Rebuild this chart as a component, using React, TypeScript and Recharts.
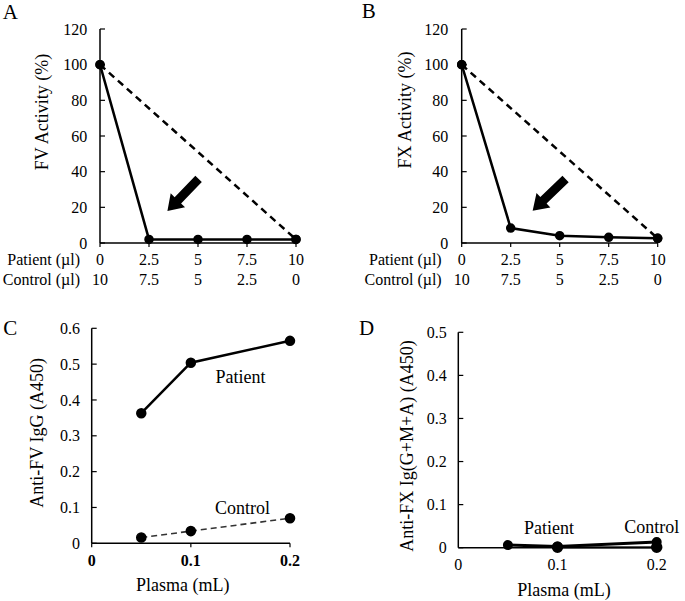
import React from 'react';
import { LineChart, Line, XAxis, YAxis, ReferenceLine, ReferenceDot, Label } from 'recharts';

// ---------- data ----------
const patientVolumes = [0, 2.5, 5, 7.5, 10];
const controlVolumes = [10, 7.5, 5, 2.5, 0];
const fvPatient = [100, 2, 2, 2, 2];
const fvControl = [100, null, null, null, 2];
const fxPatient = [100, 8.4, 4.1, 3.2, 2.6];
const fxControl = [100, null, null, null, 2.6];
const activityTicks = [0, 20, 40, 60, 80, 100, 120];

const plasmaVolumes = [0.05, 0.1, 0.2];
const antiFvPatient = [0.363, 0.504, 0.565];
const antiFvControl = [0.016, 0.034, 0.07];
const antiFxPatient = [0.006, 0.003, 0.013];
const antiFxControl = [null, 0.001, 0.001];
const plasmaTicks = [0, 0.1, 0.2];
const antiFvTicks = [0, 0.1, 0.2, 0.3, 0.4, 0.5, 0.6];
const antiFxTicks = [0, 0.1, 0.2, 0.3, 0.4, 0.5];

// arrows (data coordinates: tail -> tip)
const fvArrow = [{ x: 5.03, y: 35.9 }, { x: 3.44, y: 17.9 }];
const fxArrow = [{ x: 5.3, y: 35.9 }, { x: 3.62, y: 18.1 }];

// ---------- tables ----------
const fvData = patientVolumes.map((v, i) => ({ x: v, patient: fvPatient[i], control: fvControl[i] }));
const fxData = patientVolumes.map((v, i) => ({ x: v, patient: fxPatient[i], control: fxControl[i] }));
const antiFvData = plasmaVolumes.map((v, i) => ({ x: v, patient: antiFvPatient[i], control: antiFvControl[i] }));
const antiFxData = plasmaVolumes.map((v, i) => ({ x: v, patient: antiFxPatient[i], control: antiFxControl[i] }));

const FONT = '"Liberation Serif", "Times New Roman", serif';
const axisLine = { stroke: '#000', strokeWidth: 1.5 };
const tickLine = { stroke: '#000', strokeWidth: 1.2 };
const tickStyle = { fontFamily: FONT, fontSize: 16, fill: '#000' };

const VolumeTick = (props: any) => {
  const { x, y, payload } = props;
  const i = patientVolumes.indexOf(payload.value);
  return (
    <g fontFamily={FONT} fontSize={16} fill="#000">
      <text x={x} y={y} dy={17.6} textAnchor="middle">{payload.value}</text>
      <text x={x} y={y} dy={37.6} textAnchor="middle">{controlVolumes[i]}</text>
      {i === 0 && (
        <>
          <text x={x - 20} y={y} dy={17.6} textAnchor="end">Patient (µl)</text>
          <text x={x - 20} y={y} dy={37.6} textAnchor="end">Control (µl)</text>
        </>
      )}
    </g>
  );
};

const ArrowShape = (props: any) => {
  const { x1, y1, x2, y2 } = props;
  const dx = x2 - x1;
  const dy = y2 - y1;
  const len = Math.hypot(dx, dy) || 1;
  const ux = dx / len, uy = dy / len;
  const px = -uy, py = ux;
  const headLen = 15, headW = 10, shaftW = 4.5;
  const bx = x2 - ux * headLen, by = y2 - uy * headLen;
  const pts = [
    [x1 + px * shaftW, y1 + py * shaftW],
    [bx + px * shaftW, by + py * shaftW],
    [bx + px * headW, by + py * headW],
    [x2, y2],
    [bx - px * headW, by - py * headW],
    [bx - px * shaftW, by - py * shaftW],
    [x1 - px * shaftW, y1 - py * shaftW],
  ];
  return <polygon points={pts.map((p) => p.join(',')).join(' ')} fill="#000" />;
};

const yLabel = (text: string, dx: number, dy: number) => (
  <Label
    content={(p: any) => {
      const vb = p.viewBox;
      const cx = vb.x + dx;
      const cy = vb.y + vb.height / 2 + dy;
      return (
        <text x={cx} y={cy} transform={`rotate(-90 ${cx} ${cy})`} textAnchor="middle" dominantBaseline="central"
          fontFamily={FONT} fontSize={18} fill="#000">{text}</text>
      );
    }}
  />
);

const xLabel = (text: string, dx: number, dy: number) => (
  <Label
    content={(p: any) => {
      const vb = p.viewBox;
      const cx = vb.x + vb.width / 2 + dx;
      const cy = vb.y + dy;
      return (
        <text x={cx} y={cy} textAnchor="middle" dominantBaseline="central" fontFamily={FONT} fontSize={18} fill="#000">{text}</text>
      );
    }}
  />
);

const textLabel = (text: string) => ({ value: text, position: 'center' as const, fontFamily: FONT, fontSize: 18, fill: '#000' });

const ActivityPanel = ({ data, arrow, label, marginLeft, marginRight, dx, dy, gap }: any) => (
  <LineChart width={marginLeft + 70 + 196 + marginRight} height={290} data={data}
    margin={{ top: 29, right: marginRight, left: marginLeft, bottom: 7 }}>
    <XAxis dataKey="x" type="number" domain={[0, 10]} ticks={patientVolumes} interval={0}
      axisLine={axisLine} tickLine={tickLine} tickSize={4} tickMargin={0} height={40} tick={<VolumeTick />} />
    <YAxis type="number" domain={[0, 120]} ticks={activityTicks} interval={0} width={70}
      axisLine={axisLine} tickLine={tickLine} tickSize={-5} tickMargin={5 + gap} tick={tickStyle}>
      {yLabel(label, dx, dy)}
    </YAxis>
    <Line dataKey="control" stroke="#000" strokeWidth={2.5} strokeDasharray="7 5" connectNulls
      dot={{ r: 3.5, fill: '#000', stroke: '#000', strokeDasharray: '0' }} isAnimationActive={false} />
    <Line dataKey="patient" stroke="#000" strokeWidth={2.5}
      dot={{ r: 3.5, fill: '#000', stroke: '#000' }} isAnimationActive={false} />
    <ReferenceLine segment={arrow} shape={ArrowShape} ifOverflow="visible" />
  </LineChart>
);

export default function App() {
  return (
    <div style={{ position: 'absolute', left: 0, top: 0, width: 685, height: 601, background: '#fff' }}>
      <div style={{ position: 'absolute', left: 0, top: 0 }}>
        <ActivityPanel data={fvData} arrow={fvArrow} label="FV Activity (%)"
          marginLeft={30} marginRight={44} dx={12} dy={-24} gap={12.7} />
      </div>
      <div style={{ position: 'absolute', left: 340, top: 0 }}>
        <ActivityPanel data={fxData} arrow={fxArrow} label="FX Activity (%)"
          marginLeft={51.7} marginRight={27} dx={13.3} dy={-26} gap={13.4} />
      </div>

      <div style={{ position: 'absolute', left: 0, top: 290 }}>
        <LineChart width={340} height={311} data={antiFvData} margin={{ top: 38.3, right: 50, left: 21.7, bottom: 7.7 }}>
          <XAxis dataKey="x" type="number" domain={[0, 0.2]} ticks={plasmaTicks} interval={0} height={50}
            axisLine={axisLine} tickLine={tickLine} tickSize={4} tickMargin={7}
            tick={{ ...tickStyle, fontWeight: 'bold' }} tickFormatter={(v: number) => (v === 0 ? '0' : v.toFixed(1))}>
            {xLabel('Plasma (mL)', -8, 41.7)}
          </XAxis>
          <YAxis type="number" domain={[0, 0.6]} ticks={antiFvTicks} interval={0} width={70}
            axisLine={axisLine} tickLine={tickLine} tickSize={-5} tickMargin={5 + 11.7} tick={tickStyle}
            tickFormatter={(v: number) => (v === 0 ? '0' : v.toFixed(1))}>
            {yLabel('Anti-FV IgG (A450)', 15.3, -3)}
          </YAxis>
          <Line dataKey="control" stroke="#333" strokeWidth={1.6} strokeDasharray="6 4"
            dot={{ r: 4.5, fill: '#000', stroke: '#000', strokeDasharray: '0' }} isAnimationActive={false} />
          <Line dataKey="patient" stroke="#000" strokeWidth={2.5}
            dot={{ r: 4, fill: '#000', stroke: '#000' }} isAnimationActive={false} />
          <ReferenceDot x={0.15} y={0.465} r={0.01} fill="none" stroke="none" label={textLabel('Patient')} />
          <ReferenceDot x={0.152} y={0.099} r={0.01} fill="none" stroke="none" label={textLabel('Control')} />
        </LineChart>
      </div>

      <div style={{ position: 'absolute', left: 340, top: 290 }}>
        <LineChart width={345} height={311} data={antiFxData} margin={{ top: 42.3, right: 28.3, left: 48.3, bottom: 3.3 }}>
          <XAxis dataKey="x" type="number" domain={[0, 0.2]} ticks={plasmaTicks} interval={0} height={50}
            axisLine={axisLine} tickLine={false} tickSize={4} tickMargin={7} tick={tickStyle}
            tickFormatter={(v: number) => (v === 0 ? '0' : v.toFixed(1))}>
            {xLabel('Plasma (mL)', 6.5, 42.3)}
          </XAxis>
          <YAxis type="number" domain={[0, 0.5]} ticks={antiFxTicks} interval={0} width={70}
            axisLine={axisLine} tickLine={tickLine} tickSize={-5} tickMargin={5 + 11.6} tick={tickStyle}
            tickFormatter={(v: number) => (v === 0 ? '0' : v.toFixed(1))}>
            {yLabel('Anti-FX Ig(G+M+A) (A450)', 18.4, 6)}
          </YAxis>
          <Line dataKey="control" stroke="#555" strokeWidth={2.5} connectNulls
            dot={{ r: 4.5, fill: '#000', stroke: '#000' }} isAnimationActive={false} />
          <Line dataKey="patient" stroke="#000" strokeWidth={3}
            dot={{ r: 3.5, fill: '#000', stroke: '#000' }} isAnimationActive={false} />
          <ReferenceDot x={0.0914} y={0.0457} r={0.01} fill="none" stroke="none" label={textLabel('Patient')} />
          <ReferenceDot x={0.195} y={0.05} r={0.01} fill="none" stroke="none" label={textLabel('Control')} ifOverflow="visible" />
        </LineChart>
      </div>

      <svg width={685} height={601} style={{ position: 'absolute', left: 0, top: 0, pointerEvents: 'none' }}>
        <g fontFamily={FONT} fontSize={21} fill="#000">
          <text x={2.7} y={18.5}>A</text>
          <text x={361.7} y={17.5}>B</text>
          <text x={3.3} y={335}>C</text>
          <text x={359} y={335}>D</text>
        </g>
      </svg>
    </div>
  );
}
